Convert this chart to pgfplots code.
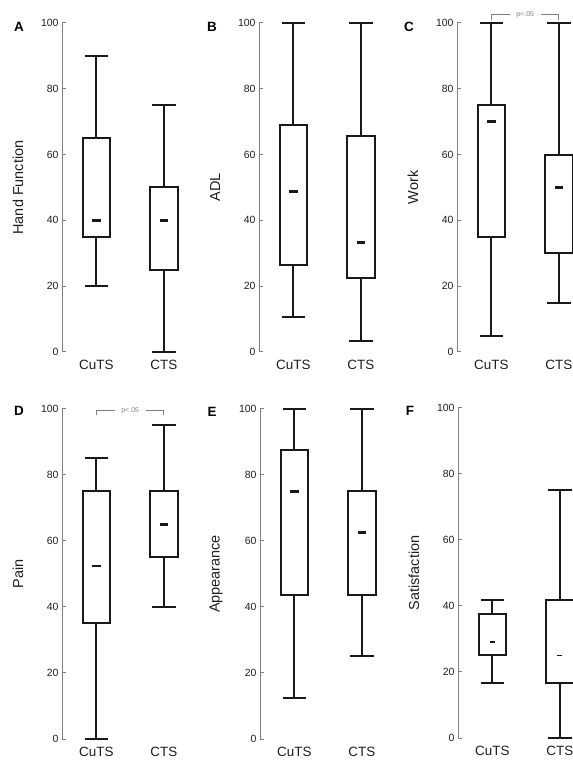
\documentclass[border=0pt]{standalone}
\usepackage{fontspec}
\setmainfont{Liberation Sans}
\usepackage{pgfplots}
\pgfplotsset{compat=1.18}
\usepgfplotslibrary{statistics}
\definecolor{axgray}{RGB}{128,128,128}
\definecolor{txt}{RGB}{30,30,30}
\begin{document}
\begin{tikzpicture}
\useasboundingbox (0bp,0bp) rectangle (573bp,762bp);
\pgfplotsset{
  medlo/.initial=0.35, medhi/.initial=0.65,
  panel/.style={
    scale only axis, width=135.7bp, height=329bp,
    xmin=0.49, xmax=2.5, ymin=0, ymax=100,
    axis y line=left, axis x line=bottom,
    x axis line style={draw=none},
    y axis line style={-, draw=axgray, line width=1bp},
    xtick={1,2}, xticklabels={CuTS,CTS},
    xtick style={draw=none},
    ytick={0,20,40,60,80,100},
    tick align=inside,
    ytick style={draw=axgray, line width=1bp},
    major tick length=3.5bp,
    /pgf/number format/assume math mode=true,
    yticklabel style={font=\fontsize{10.5}{12}\selectfont, text=txt},
    xticklabel style={font=\fontsize{13.5}{15}\selectfont, text=txt, yshift=-5bp},
    ylabel style={at={(axis description cs:-0.324,0.5)}, anchor=center, font=\fontsize{14.5}{16}\selectfont, text=txt},
    clip=false,
    boxplot/draw direction=y,
    boxplot/box extend=0.41,
    boxplot/whisker extend=0.35,
    boxplot/every median/.style={line width=2.8bp},
    boxplot/draw/median/.code={\draw[/pgfplots/boxplot/every median/.try]
      (boxplot box cs:\pgfplotsboxplotvalue{median},\pgfkeysvalueof{/pgfplots/medlo}) --
      (boxplot box cs:\pgfplotsboxplotvalue{median},\pgfkeysvalueof{/pgfplots/medhi});},
  },
  bx/.style={black!90, line width=2bp, solid},
}
% ---------- A ----------
\begin{axis}[panel, at={(62bp,410bp)}, anchor=south west, ylabel={Hand Function}]
\addplot[bx, boxplot prepared={draw position=1, lower whisker=20, lower quartile=35, median=40, upper quartile=65, upper whisker=90}] coordinates {};
\addplot[bx, boxplot prepared={draw position=2, lower whisker=0, lower quartile=25, median=40, upper quartile=50, upper whisker=75}] coordinates {};
\end{axis}
% ---------- B ----------
\begin{axis}[panel, at={(259bp,410bp)}, anchor=south west, ylabel={ADL}]
\addplot[bx, boxplot prepared={draw position=1, lower whisker=10.6, lower quartile=26.3, median=48.8, upper quartile=68.9, upper whisker=100}] coordinates {};
\addplot[bx, boxplot prepared={draw position=2, lower whisker=3.4, lower quartile=22.5, median=33.4, upper quartile=65.5, upper whisker=100}] coordinates {};
\end{axis}
% ---------- C ----------
\begin{axis}[panel, at={(457bp,410bp)}, anchor=south west, ylabel={Work}]
\addplot[bx, boxplot prepared={draw position=1, lower whisker=5, lower quartile=35, median=70, upper quartile=75, upper whisker=100}] coordinates {};
\addplot[bx, boxplot prepared={draw position=2, lower whisker=15, lower quartile=30, median=50, upper quartile=60, upper whisker=100}] coordinates {};
\draw[axgray, line width=0.9bp] (axis cs:1,101) |- (axis cs:1.27,102.5);
\draw[axgray, line width=0.9bp] (axis cs:1.73,102.5) -| (axis cs:2,101);
\node[text=axgray, font=\fontsize{7}{8}\selectfont, inner sep=0pt] at (axis cs:1.5,102.5) {p\textless.05};
\end{axis}
% ---------- D ----------
\begin{axis}[panel, at={(62bp,23bp)}, anchor=south west, height=330bp, ylabel={Pain}]
\addplot[bx, boxplot prepared={draw position=1, lower whisker=0, lower quartile=35, median=52.4, upper quartile=75, upper whisker=85}] coordinates {};
\addplot[bx, boxplot prepared={draw position=2, lower whisker=40, lower quartile=55, median=65, upper quartile=75, upper whisker=95}] coordinates {};
\draw[axgray, line width=0.9bp] (axis cs:1,98.2) |- (axis cs:1.27,99.5);
\draw[axgray, line width=0.9bp] (axis cs:1.73,99.5) -| (axis cs:2,98.2);
\node[text=axgray, font=\fontsize{7}{8}\selectfont, inner sep=0pt] at (axis cs:1.5,99.5) {p\textless.05};
\end{axis}
% ---------- E ----------
\begin{axis}[panel, at={(260bp,23bp)}, anchor=south west, height=330bp, ylabel={Appearance}]
\addplot[bx, boxplot prepared={draw position=1, lower whisker=12.5, lower quartile=43.7, median=75, upper quartile=87.5, upper whisker=100}] coordinates {};
\addplot[bx, boxplot prepared={draw position=2, lower whisker=25, lower quartile=43.7, median=62.5, upper quartile=75, upper whisker=100}] coordinates {};
\end{axis}
% ---------- F ----------
\begin{axis}[panel, at={(458bp,24bp)}, anchor=south west, height=330bp, ylabel={Satisfaction},
  medlo=0.41, medhi=0.59, boxplot/every median/.style={line width=1.8bp}]
\addplot[bx, boxplot prepared={draw position=1, lower whisker=16.7, lower quartile=25, median=29.2, upper quartile=37.5, upper whisker=41.7}] coordinates {};
\addplot[bx, boxplot prepared={draw position=2, lower whisker=0, lower quartile=16.7, median=25, upper quartile=41.7, upper whisker=75}] coordinates {};
\end{axis}
% panel letters
\begin{scope}[every node/.style={font=\fontsize{13.5}{15}\selectfont\bfseries, text=black}]
\node at (19bp,735bp) {A};
\node at (212bp,735bp) {B};
\node at (409bp,735bp) {C};
\node at (19bp,351bp) {D};
\node at (212bp,350bp) {E};
\node at (410bp,351bp) {F};
\end{scope}
\end{tikzpicture}
\end{document}
